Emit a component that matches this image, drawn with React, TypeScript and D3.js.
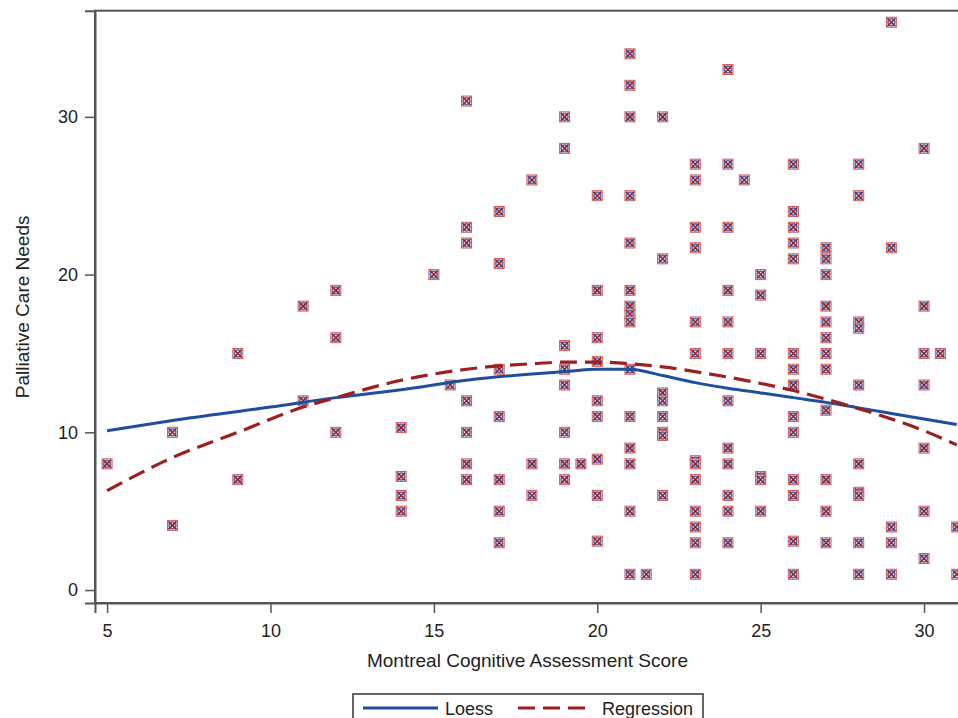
import React, { useEffect, useRef } from 'react';
import * as d3 from 'd3';

// MoCA score columns and the palliative care needs scores seen at each one
const mocaScores = [5, 7, 9, 11, 12, 14, 15, 15.5, 16, 17, 18, 19, 19.5, 20, 21, 21.5, 22, 23, 24, 24.5, 25, 26, 27, 28, 29, 30, 30.5, 31];
const careNeeds = [
  [8],
  [10, 4.1],
  [15, 7],
  [18, 12],
  [19, 16, 10],
  [10.3, 7.2, 6, 5],
  [20],
  [13],
  [31, 23, 22, 12, 10, 8, 7],
  [24, 20.7, 14, 11, 7, 5, 3],
  [26, 8, 6],
  [30, 28, 15.5, 14, 13, 10, 8, 7],
  [8],
  [25, 19, 16, 14.5, 12, 11, 8.3, 6, 3.1],
  [34, 32, 30, 25, 22, 19, 18, 17.5, 17, 14, 11, 9, 8, 5, 1],
  [1],
  [30, 21, 12.5, 12, 11, 10, 9.8, 6],
  [27, 26, 23, 21.7, 17, 15, 8.2, 8, 7, 5, 4, 3, 1],
  [33, 27, 23, 19, 17, 15, 12, 9, 8, 6, 5, 3],
  [26],
  [20, 18.7, 15, 7.2, 7, 5],
  [27, 24, 23, 22, 21, 15, 14, 13, 11, 10, 7, 6, 3.1, 1],
  [21.7, 21, 20, 18, 17, 16, 15, 14, 11.4, 7, 5, 3],
  [27, 25, 17, 16.6, 13, 8, 6.2, 6, 3, 1],
  [36, 21.7, 4, 3, 1],
  [28, 18, 15, 13, 9, 5, 2],
  [15],
  [4, 1],
];

// fitted curves
const loessX = [5, 7, 10, 12, 14, 16, 18, 19, 20, 21, 22, 23, 24, 25, 26, 27, 28, 29, 30, 31];
const loessY = [10.1, 10.75, 11.6, 12.2, 12.7, 13.3, 13.7, 13.85, 14.0, 14.0, 13.6, 13.15, 12.8, 12.5, 12.2, 11.9, 11.55, 11.2, 10.85, 10.5];
const regX = [5, 7, 9, 11, 12, 14, 16, 18, 19, 20, 21, 22, 23, 24, 25, 26, 27, 28, 29, 30, 31];
const regY = [6.3, 8.4, 10.0, 11.6, 12.2, 13.3, 14.0, 14.35, 14.45, 14.45, 14.35, 14.15, 13.85, 13.5, 13.1, 12.65, 12.1, 11.5, 10.85, 10.1, 9.2];

const xTicks = [5, 10, 15, 20, 25, 30];
const yTicks = [0, 10, 20, 30];
const legendItems = ['Loess', 'Regression'];

const FONT = '"Liberation Sans", Arial, sans-serif';
const BLUE = '#1f4f9c';
const RED = '#9e1f1f';

const App = () => {
  const svgRef = useRef(null);

  useEffect(() => {
    const svg = d3.select(svgRef.current);
    const width = 958;
    const height = 718;
    svg.selectAll('*').remove();
    svg.attr('width', width).attr('height', height);

    const left = 95, right = 960, top = 10.7, bottom = 603;

    const x = d3.scaleLinear().domain([4.63, 31.1]).range([left, right]);
    const y = d3.scaleLinear().domain([-0.82, 36.73]).range([bottom, top]);

    // frame
    svg.append('rect')
      .attr('x', left).attr('y', top)
      .attr('width', right - left).attr('height', bottom - top)
      .attr('fill', 'none').attr('stroke', '#555').attr('stroke-width', 2);

    // axes
    const xAxis = d3.axisBottom(x).tickValues(xTicks).tickSize(10).tickPadding(11);
    const yAxis = d3.axisLeft(y).tickValues(yTicks).tickSize(10).tickPadding(7);

    const gx = svg.append('g').attr('transform', `translate(0, ${bottom})`).call(xAxis);
    const gy = svg.append('g').attr('transform', `translate(${left}, 0)`).call(yAxis);
    [gx, gy].forEach((g) => {
      g.select('.domain').attr('stroke', '#555').attr('stroke-width', 2);
      g.selectAll('.tick line').attr('stroke', '#555').attr('stroke-width', 1.5);
      g.selectAll('.tick text')
        .attr('fill', '#222')
        .style('font-family', FONT)
        .style('font-size', '18px');
    });

    // axis titles
    svg.append('text')
      .attr('x', (left + right) / 2).attr('y', 667)
      .attr('text-anchor', 'middle')
      .style('font-family', FONT).style('font-size', '19px')
      .attr('fill', '#222')
      .text('Montreal Cognitive Assessment Score');

    svg.append('text')
      .attr('transform', `translate(29, ${(top + bottom) / 2}) rotate(-90)`)
      .attr('text-anchor', 'middle')
      .style('font-family', FONT).style('font-size', '19px')
      .attr('fill', '#222')
      .text('Palliative Care Needs');

    // scatter points
    const points = mocaScores.flatMap((s, i) => careNeeds[i].map((v) => [s, v]));
    const pts = svg.append('g')
      .selectAll('g')
      .data(points)
      .join('g')
      .attr('transform', (d) => `translate(${x(d[0])}, ${y(d[1])})`);

    const h = 5;
    pts.append('rect')
      .attr('x', -h).attr('y', -h).attr('width', 2 * h).attr('height', 2 * h)
      .attr('fill', '#dbe6f5').attr('stroke', '#d05a5a').attr('stroke-width', 1);
    pts.append('circle')
      .attr('r', 3.4)
      .attr('fill', 'none').attr('stroke', '#3f72c8').attr('stroke-width', 1.6);
    pts.append('path')
      .attr('d', `M${-h + 1},${-h + 1}L${h - 1},${h - 1}M${-h + 1},${h - 1}L${h - 1},${-h + 1}`)
      .attr('stroke', '#a01818').attr('stroke-width', 1.5);

    // fitted curves
    const clip = svg.append('clipPath').attr('id', 'plot-clip');
    clip.append('rect').attr('x', left).attr('y', top).attr('width', right - left).attr('height', bottom - top);

    const line = d3.line().x((d) => x(d[0])).y((d) => y(d[1])).curve(d3.curveMonotoneX);

    svg.append('path')
      .datum(loessX.map((v, i) => [v, loessY[i]]))
      .attr('clip-path', 'url(#plot-clip)')
      .attr('fill', 'none').attr('stroke', BLUE).attr('stroke-width', 3)
      .attr('d', line);

    svg.append('path')
      .datum(regX.map((v, i) => [v, regY[i]]))
      .attr('clip-path', 'url(#plot-clip)')
      .attr('fill', 'none').attr('stroke', RED).attr('stroke-width', 3.2)
      .attr('stroke-dasharray', '17,8')
      .attr('d', line);

    // legend
    const lg = svg.append('g');
    lg.append('rect')
      .attr('x', 353).attr('y', 694).attr('width', 350).attr('height', 40)
      .attr('fill', 'white').attr('stroke', '#333').attr('stroke-width', 1.5);

    const legendPos = [
      { x1: 363, x2: 438, tx: 445 },
      { x1: 518, x2: 587, tx: 602 },
    ];
    legendItems.forEach((name, i) => {
      const p = legendPos[i];
      lg.append('line')
        .attr('x1', p.x1).attr('x2', p.x2).attr('y1', 708).attr('y2', 708)
        .attr('stroke', i === 0 ? BLUE : RED).attr('stroke-width', 3)
        .attr('stroke-dasharray', i === 0 ? null : '17,8');
      lg.append('text')
        .attr('x', p.tx).attr('y', 714.5)
        .style('font-family', FONT).style('font-size', '18px')
        .attr('fill', '#222')
        .text(name);
    });
  }, []);

  return (
    <svg ref={svgRef} style={{ position: 'absolute', left: 0, top: 0, background: 'white' }} />
  );
};

export default App;
